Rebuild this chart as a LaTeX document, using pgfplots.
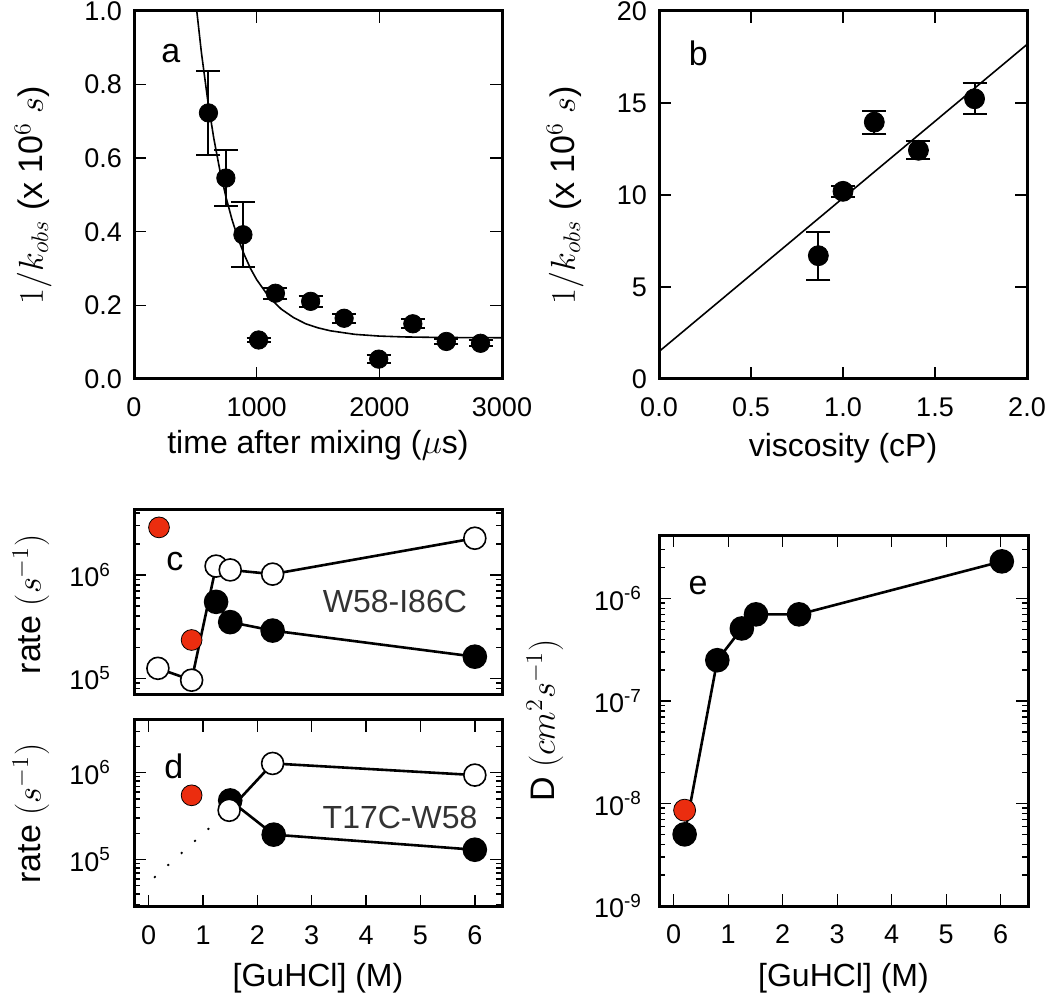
\documentclass[border=0pt]{standalone}
\usepackage[no-math]{fontspec}
\setmainfont{Liberation Sans}
\usepackage{pgfplots}
\pgfplotsset{compat=1.18}
\definecolor{myred}{RGB}{235,45,15}
\pgfplotsset{
  panel/.style={scale only axis, anchor=south west,
    axis line style={line width=1.5pt},
    tick style={line width=0.7pt, black},
    major tick length=6pt, minor tick length=3pt, tick align=inside,
    tick label style={font=\fontsize{13.5}{16}\selectfont},
    xticklabel shift=6pt, yticklabel shift=2.5pt,
    xlabel style={font=\fontsize{16}{19}\selectfont, anchor=center},
    ylabel style={font=\fontsize{17}{20}\selectfont, anchor=center},
    /pgf/number format/assume math mode=true,
    clip=true},
}
\tikzset{
  filled/.style={black, line width=1.3pt, mark=*, mark size=5.5pt, mark options={fill=black, draw=black, solid}},
  open/.style={black, line width=1.3pt, mark=*, mark size=5.5pt, mark options={fill=white, draw=black, line width=0.8pt, solid}},
  redm/.style={only marks, mark=*, mark size=5.2pt, mark options={fill=myred, draw=black, line width=0.4pt}},
  letter/.style={font=\fontsize{17}{20}\selectfont, anchor=center},
}
\begin{document}
\begin{tikzpicture}
\useasboundingbox (0,0) rectangle (525pt,500pt);
% panel a
\begin{axis}[panel, at={(67pt,310.5pt)}, width=184pt, height=184pt,
  xmin=0, xmax=3000, ymin=0, ymax=1.0,
  xtick={0,1000,2000,3000}, ytick={0,0.2,0.4,0.6,0.8,1.0},
  xticklabel style={/pgf/number format/1000 sep={}},
  yticklabel style={/pgf/number format/.cd, fixed, fixed zerofill, precision=1},
  xlabel={time after mixing ($\mu$s)},
  ylabel={$1/k_{obs}$ (x 10$^{6}$ $s$)},
  xlabel style={at={(axis description cs:0.5,-0.179)}},
  ylabel style={at={(axis description cs:-0.274,0.5)}}]
\addplot[black, line width=0.8pt] coordinates {
(500,1.035) (550,0.886) (600,0.760) (650,0.655) (700,0.567) (750,0.494) (800,0.432)
(850,0.380) (900,0.337) (950,0.300) (1000,0.270) (1100,0.223) (1200,0.190)
(1300,0.167) (1400,0.150) (1500,0.139) (1600,0.131) (1800,0.1213) (2000,0.1166)
(2200,0.1143) (2500,0.1128) (3000,0.1121)};
\addplot[only marks, mark=*, mark size=4.6pt, black,
  error bars/.cd, y dir=both, y explicit,
  error bar style={line width=1pt},
  error mark options={rotate=90, mark size=6pt, line width=1pt}]
coordinates {
(607,0.723) +- (0,0.113)
(749,0.546) +- (0,0.075)
(888,0.392) +- (0,0.088)
(1016,0.106) +- (0,0.006)
(1153,0.233) +- (0,0.015)
(1440,0.211) +- (0,0.015)
(1713,0.165) +- (0,0.012)
(1995,0.054) +- (0,0.010)
(2273,0.150) +- (0,0.012)
(2546,0.102) +- (0,0.008)
(2825,0.097) +- (0,0.008)};
\node[letter] at (rel axis cs:0.1,0.885) {a};
\end{axis}
% panel b
\begin{axis}[panel, at={(329.5pt,310.5pt)}, width=184pt, height=184pt,
  xmin=0, xmax=2, ymin=0, ymax=20,
  xtick={0,0.5,1.0,1.5,2.0}, ytick={0,5,10,15,20},
  xticklabel style={/pgf/number format/.cd, fixed, fixed zerofill, precision=1},
  xlabel={viscosity (cP)},
  ylabel={$1/k_{obs}$ (x 10$^{6}$ $s$)},
  xlabel style={at={(axis description cs:0.5,-0.188)}},
  ylabel style={at={(axis description cs:-0.255,0.5)}}]
\addplot[black, line width=0.8pt] coordinates {(0,1.49) (2,18.18)};
\addplot[only marks, mark=*, mark size=5pt, black,
  error bars/.cd, y dir=both, y explicit,
  error bar style={line width=1pt},
  error mark options={rotate=90, mark size=6pt, line width=1pt}]
coordinates {
(0.866,6.70) +- (0,1.3)
(1.0,10.2) +- (0,0.3)
(1.17,13.96) +- (0,0.63)
(1.41,12.43) +- (0,0.5)
(1.715,15.23) +- (0,0.85)};
\node[letter] at (rel axis cs:0.107,0.885) {b};
\end{axis}
% panel c
\begin{axis}[panel, at={(67pt,152.5pt)}, width=184pt, height=92.5pt,
  xmin=-0.27, xmax=6.5, ymode=log, ymin=6.9e4, ymax=4.26e6,
  xtick=\empty, ytick={1e5,1e6}, yticklabels={10\textsuperscript{5},10\textsuperscript{6}},
  minor ytick={7e4,8e4,9e4,2e5,3e5,4e5,5e5,6e5,7e5,8e5,9e5,2e6,3e6,4e6},
  yticklabel shift=8pt,
  ylabel={rate $(s^{-1})$},
  ylabel style={at={(axis description cs:-0.28,0.49)}}]
\addplot[open] coordinates {(0.17,1.25e5) (0.79,9.6e4) (1.24,1.22e6) (1.5,1.12e6) (2.28,1.02e6) (6.0,2.27e6)};
\addplot[filled] coordinates {(1.24,5.5e5) (1.5,3.5e5) (2.28,2.9e5) (6.0,1.62e5)};
\addplot[redm] coordinates {(0.19,2.89e6) (0.79,2.35e5)};
\node[letter] at (rel axis cs:0.111,0.72) {c};
\node[font=\fontsize{16}{19}\selectfont, text=black!80] at (rel axis cs:0.709,0.503) {W58-I86C};
\end{axis}
% panel d
\begin{axis}[panel, at={(67pt,46.5pt)}, width=184pt, height=93.5pt,
  xmin=-0.27, xmax=6.5, ymode=log, ymin=2.85e4, ymax=4.05e6,
  xtick={0,1,2,3,4,5,6}, ytick={1e5,1e6}, yticklabels={10\textsuperscript{5},10\textsuperscript{6}},
  minor ytick={3e4,4e4,5e4,6e4,7e4,8e4,9e4,2e5,3e5,4e5,5e5,6e5,7e5,8e5,9e5,2e6,3e6,4e6},
  yticklabel shift=8pt,
  xlabel={[GuHCl] (M)},
  ylabel={rate $(s^{-1})$},
  xlabel style={at={(axis description cs:0.5,-0.38)}},
  ylabel style={at={(axis description cs:-0.28,0.5)}}]
\addplot[black, line width=0.9pt, dash pattern=on 1pt off 8pt] coordinates {(0.1,6.2e4) (1.48,3.7e5)};
\addplot[filled] coordinates {(1.5,4.8e5) (2.3,1.94e5) (6.0,1.3e5)};
\addplot[open] coordinates {(1.48,3.7e5) (2.28,1.28e6) (6.0,9.4e5)};
\addplot[redm] coordinates {(0.79,5.5e5)};
\node[letter] at (rel axis cs:0.108,0.75) {d};
\node[font=\fontsize{16}{19}\selectfont, text=black!80] at (rel axis cs:0.723,0.476) {T17C-W58};
\end{axis}
% panel e
\begin{axis}[panel, at={(329.5pt,47pt)}, width=184.5pt, height=185.5pt,
  xmin=-0.27, xmax=6.5, ymode=log, ymin=1e-9, ymax=4.16e-6,
  xtick={0,1,2,3,4,5,6}, ytick={1e-9,1e-8,1e-7,1e-6},
  yticklabels={10\textsuperscript{-9},10\textsuperscript{-8},10\textsuperscript{-7},10\textsuperscript{-6}},
  minor ytick={2e-9,3e-9,4e-9,5e-9,6e-9,7e-9,8e-9,9e-9,2e-8,3e-8,4e-8,5e-8,6e-8,7e-8,8e-8,9e-8,2e-7,3e-7,4e-7,5e-7,6e-7,7e-7,8e-7,9e-7,2e-6,3e-6,4e-6},
  yticklabel shift=5pt,
  xlabel={[GuHCl] (M)},
  ylabel={D $(cm^{2}s^{-1})$},
  xlabel style={at={(axis description cs:0.5,-0.194)}},
  ylabel style={at={(axis description cs:-0.309,0.5)}}]
\addplot[filled] coordinates {(0.2,5.0e-9) (0.8,2.5e-7) (1.25,5.1e-7) (1.51,7.0e-7) (2.3,7.0e-7) (6.02,2.3e-6)};
\addplot[redm, mark size=5.5pt] coordinates {(0.2,8.6e-9)};
\node[letter] at (rel axis cs:0.106,0.865) {e};
\end{axis}
\end{tikzpicture}
\end{document}
